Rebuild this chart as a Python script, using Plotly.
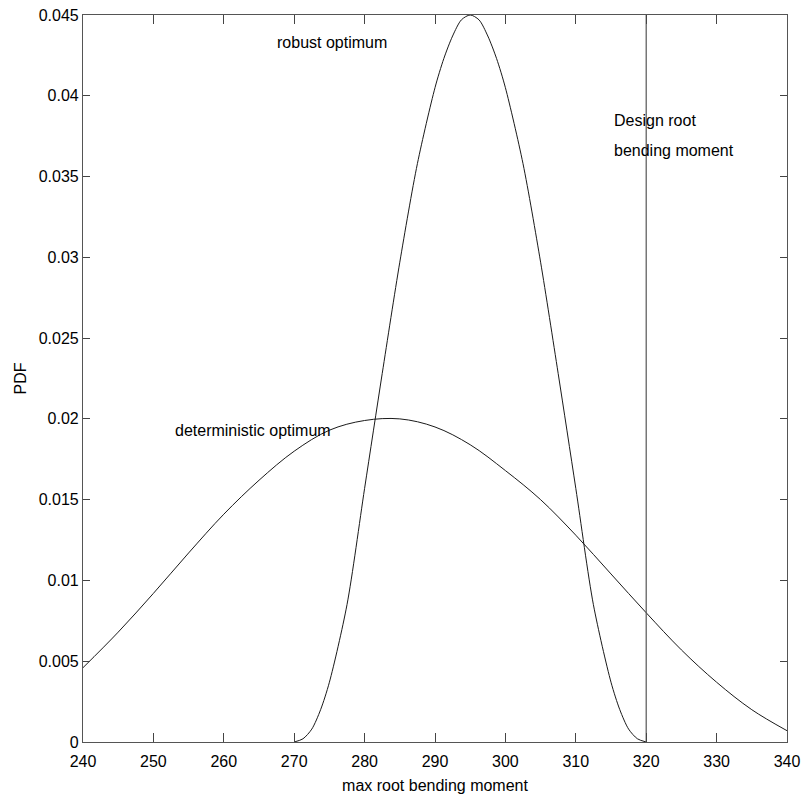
import plotly.graph_objects as go

# Deterministic optimum PDF
det_x = [240, 245, 250, 255, 260, 265, 270, 275, 280, 285, 290, 295, 300, 305, 310, 315, 320, 325, 330, 335, 340]
det_y = [0.0046, 0.0068, 0.0092, 0.0117, 0.0141, 0.0162, 0.0180, 0.0193, 0.0199, 0.0200, 0.0195, 0.0184,
         0.0168, 0.0150, 0.0128, 0.0104, 0.0080, 0.0057, 0.0037, 0.0020, 0.0007]

# Robust optimum PDF
rob_x = [270, 271.25, 272.5, 273.75, 275, 277.5, 280, 282.5, 285, 287.5, 290, 291.25, 292.5, 293.75, 295,
         296.25, 297.5, 298.75, 300, 302.5, 305, 307.5, 310, 312.5, 315, 316.25, 317.5, 318.75, 320]
rob_y = [0.0, 0.0002, 0.0008, 0.0020, 0.0037, 0.0085, 0.0157, 0.0228, 0.0297, 0.0358, 0.0405, 0.0423, 0.0437, 0.0447, 0.0450,
         0.0447, 0.0437, 0.0423, 0.0405, 0.0358, 0.0297, 0.0228, 0.0157, 0.0085, 0.0037, 0.0020, 0.0008, 0.0002, 0.0]

# Design root bending moment
design_x = [320, 320]
design_y = [0.0, 0.045]

x_ticks = [240, 250, 260, 270, 280, 290, 300, 310, 320, 330, 340]
y_ticks = [0, 0.005, 0.01, 0.015, 0.02, 0.025, 0.03, 0.035, 0.04, 0.045]
y_ticklabels = ["0", "0.005", "0.01", "0.015", "0.02", "0.025", "0.03", "0.035", "0.04", "0.045"]

FONT = "Liberation Sans, Arial, sans-serif"

fig = go.Figure()
fig.add_trace(go.Scatter(x=det_x, y=det_y, mode="lines",
                         line=dict(color="#1a1a1a", width=1, shape="spline", smoothing=1.0),
                         showlegend=False, hoverinfo="skip"))
fig.add_trace(go.Scatter(x=rob_x, y=rob_y, mode="lines",
                         line=dict(color="#1a1a1a", width=1, shape="spline", smoothing=0.8),
                         showlegend=False, hoverinfo="skip"))
fig.add_trace(go.Scatter(x=design_x, y=design_y, mode="lines",
                         line=dict(color="#555555", width=1.2),
                         showlegend=False, hoverinfo="skip"))

annots = [
    ("robust optimum", 267.3, 0.0433),
    ("deterministic optimum", 252.8, 0.0193),
    ("Design root", 315.1, 0.0385),
    ("bending moment", 315.1, 0.0366),
]
for txt, ax_, ay_ in annots:
    fig.add_annotation(x=ax_, y=ay_, text=txt, showarrow=False, xanchor="left", yanchor="middle",
                       font=dict(family=FONT, size=16, color="black"))

fig.update_layout(
    width=802, height=800,
    margin=dict(l=83, r=15, t=15, b=58),
    plot_bgcolor="white", paper_bgcolor="white",
    font=dict(family=FONT, size=16, color="black"),
)
fig.update_xaxes(range=[240, 340], tickvals=x_ticks, ticks="inside", ticklen=9, tickcolor="#444",
                 showline=True, linecolor="#555555", linewidth=1.2, mirror="ticks",
                 showgrid=False, zeroline=False, automargin=False, ticklabelstandoff=5,
                 title=dict(text="max root bending moment", font=dict(size=16), standoff=10),
                 tickfont=dict(size=16))
fig.update_yaxes(range=[0, 0.045], tickvals=y_ticks, ticktext=y_ticklabels, ticks="inside", ticklen=7,
                 tickcolor="#444", showline=True, linecolor="#555555", linewidth=1.2, mirror="ticks",
                 showgrid=False, zeroline=False, automargin=False,
                 title=dict(text="PDF", font=dict(size=16), standoff=8),
                 tickfont=dict(size=16))

fig.write_html("out.html")
